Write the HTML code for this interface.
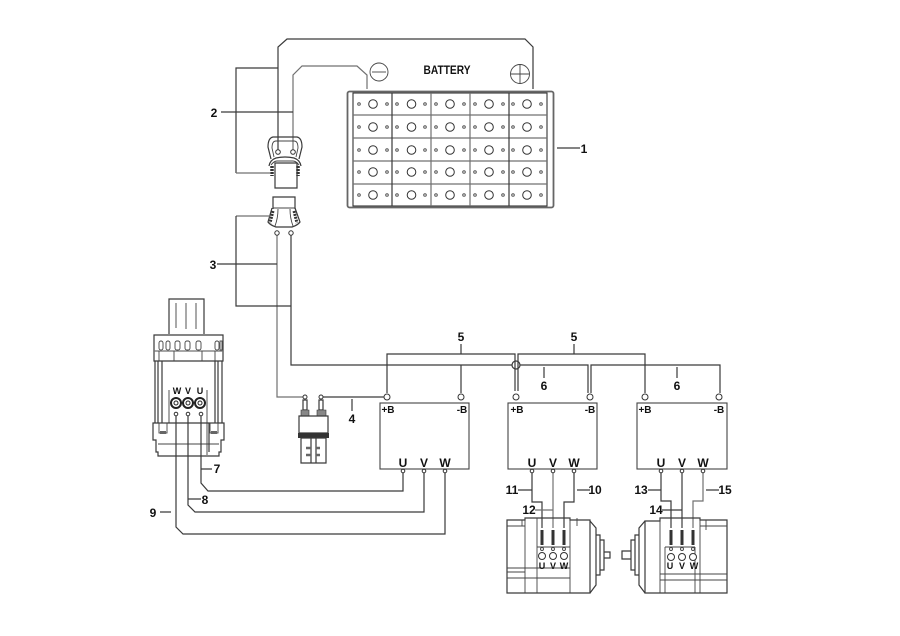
<!DOCTYPE html>
<html><head><meta charset="utf-8"><style>
html,body{margin:0;padding:0;background:#fff}
svg{display:block}
text{font-family:"Liberation Sans",sans-serif;font-weight:bold;fill:#111;text-anchor:middle}
.w{fill:none;stroke:#3a3a3a;stroke-width:1.2}
.g{fill:none;stroke:#707070;stroke-width:1.2}
.t{fill:none;stroke:#444;stroke-width:.9}
.c{fill:#fff;stroke:#333;stroke-width:1}
.n{font-size:12px}
.l{font-size:10px}
</style></head><body>
<svg width="900" height="636" viewBox="0 0 900 636" xmlns="http://www.w3.org/2000/svg">
<!-- battery wires -->
<path class="w" d="M278 152V47L287 39H525L533 47V89"/>
<path class="g" d="M293 152V75L302 66H357L367 75V89"/>
<path class="w" d="M278 68H236V173"/><path class="g" d="M236 173H270"/>
<path class="w" d="M221 112H293"/>
<circle class="t" cx="379" cy="72" r="9"/><path class="t" d="M372 72H386"/>
<circle class="t" cx="520" cy="74" r="9.500"/><path class="t" d="M511 74H529M520 65V83"/>
<text x="447" y="74" font-size="12" textLength="47" lengthAdjust="spacingAndGlyphs">BATTERY</text>
<!-- battery -->
<rect x="347.500" y="91.500" width="206" height="116" rx="2" fill="none" stroke="#666" stroke-width="1.800"/>
<rect x="353" y="93" width="194" height="113" fill="none" stroke="#333" stroke-width="1.100"/>
<path class="g" d="M353 115H547M353 138H547M353 161H547M353 184H547"/>
<path class="w" d="M392 93V206M509 93V206"/><path class="g" d="M431 93V206M470 93V206"/>
<g fill="none" stroke="#333" stroke-width="1">
<circle cx="373" cy="104" r="4.300"/><circle cx="411.500" cy="104" r="4.300"/><circle cx="450" cy="104" r="4.300"/><circle cx="489" cy="104" r="4.300"/><circle cx="527" cy="104" r="4.300"/>
<circle cx="373" cy="127" r="4.300"/><circle cx="411.500" cy="127" r="4.300"/><circle cx="450" cy="127" r="4.300"/><circle cx="489" cy="127" r="4.300"/><circle cx="527" cy="127" r="4.300"/>
<circle cx="373" cy="150" r="4.300"/><circle cx="411.500" cy="150" r="4.300"/><circle cx="450" cy="150" r="4.300"/><circle cx="489" cy="150" r="4.300"/><circle cx="527" cy="150" r="4.300"/>
<circle cx="373" cy="172" r="4.300"/><circle cx="411.500" cy="172" r="4.300"/><circle cx="450" cy="172" r="4.300"/><circle cx="489" cy="172" r="4.300"/><circle cx="527" cy="172" r="4.300"/>
<circle cx="373" cy="195" r="4.300"/><circle cx="411.500" cy="195" r="4.300"/><circle cx="450" cy="195" r="4.300"/><circle cx="489" cy="195" r="4.300"/><circle cx="527" cy="195" r="4.300"/>
</g>
<g fill="none" stroke="#555" stroke-width="1">
<circle cx="359" cy="104" r="1.300"/><circle cx="387" cy="104" r="1.300"/><circle cx="397" cy="104" r="1.300"/><circle cx="425" cy="104" r="1.300"/><circle cx="436" cy="104" r="1.300"/><circle cx="464" cy="104" r="1.300"/><circle cx="475" cy="104" r="1.300"/><circle cx="503" cy="104" r="1.300"/><circle cx="513" cy="104" r="1.300"/><circle cx="541" cy="104" r="1.300"/>
<circle cx="359" cy="127" r="1.300"/><circle cx="387" cy="127" r="1.300"/><circle cx="397" cy="127" r="1.300"/><circle cx="425" cy="127" r="1.300"/><circle cx="436" cy="127" r="1.300"/><circle cx="464" cy="127" r="1.300"/><circle cx="475" cy="127" r="1.300"/><circle cx="503" cy="127" r="1.300"/><circle cx="513" cy="127" r="1.300"/><circle cx="541" cy="127" r="1.300"/>
<circle cx="359" cy="150" r="1.300"/><circle cx="387" cy="150" r="1.300"/><circle cx="397" cy="150" r="1.300"/><circle cx="425" cy="150" r="1.300"/><circle cx="436" cy="150" r="1.300"/><circle cx="464" cy="150" r="1.300"/><circle cx="475" cy="150" r="1.300"/><circle cx="503" cy="150" r="1.300"/><circle cx="513" cy="150" r="1.300"/><circle cx="541" cy="150" r="1.300"/>
<circle cx="359" cy="172" r="1.300"/><circle cx="387" cy="172" r="1.300"/><circle cx="397" cy="172" r="1.300"/><circle cx="425" cy="172" r="1.300"/><circle cx="436" cy="172" r="1.300"/><circle cx="464" cy="172" r="1.300"/><circle cx="475" cy="172" r="1.300"/><circle cx="503" cy="172" r="1.300"/><circle cx="513" cy="172" r="1.300"/><circle cx="541" cy="172" r="1.300"/>
<circle cx="359" cy="195" r="1.300"/><circle cx="387" cy="195" r="1.300"/><circle cx="397" cy="195" r="1.300"/><circle cx="425" cy="195" r="1.300"/><circle cx="436" cy="195" r="1.300"/><circle cx="464" cy="195" r="1.300"/><circle cx="475" cy="195" r="1.300"/><circle cx="503" cy="195" r="1.300"/><circle cx="513" cy="195" r="1.300"/><circle cx="541" cy="195" r="1.300"/>
</g>
<!-- upper connector -->
<path class="w" d="M271 159L268 147Q268 138 273 137H297Q302 138 302 147L299 159"/>
<path class="t" d="M274 157L272 148Q272 141 276 141H294Q298 141 298 148L296 157"/>
<circle class="c" cx="278" cy="152" r="2.300"/><circle class="c" cx="293" cy="152" r="2.300"/>
<path class="w" d="M269 166Q270 160 276 158Q285 156 294 158Q300 160 301 166"/>
<path class="t" d="M271 165Q274 161 277 161H293Q296 161 299 165"/>
<path class="w" d="M275 163H297V188H275Z"/>
<path d="M272 166V176M298 166V176" stroke="#333" stroke-width="3.500" stroke-dasharray="2 1" fill="none"/>
<!-- lower connector -->
<path class="w" d="M273 209V197H295V209"/>
<path class="w" d="M272 208L268 222Q270 225 276 227H292Q298 225 300 222L295 208"/>
<path class="t" d="M273 208H295M278 209Q278 218 275 226M290 209Q290 218 293 226"/>
<path d="M273 211L270 223M294 211L297 223" stroke="#333" stroke-width="3" stroke-dasharray="2 1" fill="none"/>
<path class="g" d="M277 235V397H303"/>
<path class="w" d="M291 235V365H385"/>
<path class="g" d="M270 216H236"/><path class="w" d="M236 216V306H291"/>
<path class="w" d="M217 264H277"/>
<circle class="c" cx="277" cy="233" r="2.200"/><circle class="c" cx="291" cy="233" r="2.200"/>
<!-- bus -->
<path class="w" d="M387 393V354H515V391"/>
<path class="w" d="M385 365H512M520 365H588V393M591 393V365H720V393"/>
<path class="w" d="M518 391V354H645V393"/>
<path class="w" d="M512 365A4 4 0 0 1 520 365"/><path class="w" d="M512 365A4 4 0 0 0 520 365"/>
<path class="w" d="M461 365V393"/>
<path class="w" d="M461 344V354M574 344V354M544 367V378M677 367V378M352 399V411"/>
<circle class="c" cx="387" cy="397" r="3"/><circle class="c" cx="461" cy="397" r="3"/>
<circle class="c" cx="516" cy="397" r="3"/><circle class="c" cx="590" cy="397" r="3"/>
<circle class="c" cx="645" cy="397" r="3"/><circle class="c" cx="719" cy="397" r="3"/>
<path class="w" d="M323 397H384"/>
<!-- controller boxes -->
<rect x="380" y="403" width="89" height="66" fill="none" stroke="#444" stroke-width="1.100"/>
<rect x="508" y="403" width="89" height="66" fill="none" stroke="#444" stroke-width="1.100"/>
<rect x="637" y="403" width="90" height="66" fill="none" stroke="#444" stroke-width="1.100"/>
<g class="l">
<text x="388" y="413">+B</text><text x="462" y="413">-B</text>
<text x="517" y="413">+B</text><text x="590" y="413">-B</text>
<text x="645" y="413">+B</text><text x="719" y="413">-B</text>
<text x="403" y="467" font-size="12">U</text><text x="424" y="467" font-size="12">V</text><text x="445" y="467" font-size="12">W</text>
<text x="532" y="467" font-size="12">U</text><text x="553" y="467" font-size="12">V</text><text x="574" y="467" font-size="12">W</text>
<text x="661" y="467" font-size="12">U</text><text x="682" y="467" font-size="12">V</text><text x="703" y="467" font-size="12">W</text>
</g>
<!-- contactor -->
<circle class="c" cx="305" cy="397" r="2"/><circle class="c" cx="321" cy="397" r="2"/>
<path class="w" d="M303 400H307V410H303ZM319 400H323V410H319Z"/>
<path d="M301 410H309V416H301ZM317 410H326V416H317Z" fill="#888" stroke="#333" stroke-width=".6"/>
<path class="w" d="M299 416H328V433H299Z"/>
<rect x="298" y="433" width="31" height="5" fill="#333"/>
<path class="w" d="M301 438H326V463H301ZM311 438V463M316 438V463"/>
<path d="M306 448H311M316 448H320M306 455H311M316 455H320" stroke="#666" stroke-width="2.500" fill="none"/>
<!-- motor controller left -->
<path class="w" d="M169 334V299H204V334"/>
<path class="g" d="M176 303V328M186 303V329M196 303V329"/>
<path class="w" d="M154 335H223V361H154Z"/>
<path class="g" d="M154 351H223"/>
<rect class="t" x="159" y="341" width="4" height="9" rx="2"/><rect class="t" x="166" y="341" width="4" height="9" rx="2"/><rect class="t" x="175" y="341" width="5" height="9" rx="2"/><rect class="t" x="185" y="341" width="5" height="9" rx="2"/><rect class="t" x="196" y="341" width="5" height="9" rx="2"/><rect class="t" x="215" y="341" width="4" height="9" rx="2"/><rect class="t" x="220" y="341" width="2" height="9"/>
<path class="t" d="M159 351V361M174 351V361M202 351V361M215 351V361"/>
<path class="w" d="M155 361V423M158 361V423M162 361V423M215 361V423M218 361V423M222 361V423"/>
<path class="g" d="M169 390V423M207 390V455"/>
<path class="w" d="M153 423H224V440L221 440V452H219V456H158V452H156V440H153Z"/>
<path class="t" d="M158 444H219"/>
<path class="w" d="M209 423V452" stroke-width="1.500"/>
<rect class="t" x="159" y="423" width="8" height="10"/><rect class="t" x="210" y="423" width="8" height="10"/>
<rect x="160" y="431" width="6" height="3" fill="#666"/><rect x="211" y="431" width="6" height="3" fill="#666"/>
<g stroke="#222" fill="#fff">
<circle cx="176" cy="403" r="5" stroke-width="2"/><circle cx="176" cy="403" r="2" stroke-width="1"/>
<circle cx="188" cy="403" r="5" stroke-width="2"/><circle cx="188" cy="403" r="2" stroke-width="1"/>
<circle cx="200" cy="403" r="5" stroke-width="2"/><circle cx="200" cy="403" r="2" stroke-width="1"/>
</g>
<text x="177" y="394" font-size="9">W</text><text x="188" y="394" font-size="9">V</text><text x="200" y="394" font-size="9">U</text>
<path class="w" d="M201 416V483L208 491H403V473"/>
<path class="w" d="M188 416V505L195 512H424V473"/>
<path class="w" d="M176 416V527L183 534H445V473"/>
<circle class="c" cx="176" cy="414" r="1.800"/><circle class="c" cx="188" cy="414" r="1.800"/><circle class="c" cx="201" cy="414" r="1.800"/>
<circle class="c" cx="403" cy="471" r="1.800"/><circle class="c" cx="424" cy="471" r="1.800"/><circle class="c" cx="445" cy="471" r="1.800"/>
<path class="w" d="M201 469H212M188 499H201M160 512H171"/>
<!-- motor 1 wiring -->
<path class="w" d="M532 473V502H542V528"/><path class="g" d="M553 473V528"/><path class="w" d="M574 473V502H564V528"/>
<circle class="c" cx="532" cy="471" r="1.800"/><circle class="c" cx="553" cy="471" r="1.800"/><circle class="c" cx="574" cy="471" r="1.800"/>
<path class="w" d="M518 490H532M577 490H590"/><path class="g" d="M535 510H553"/>
<!-- motor 1 -->
<path class="w" d="M507 520H525V518H570V520H590V593H507Z"/>
<path class="t" d="M525 518V593M570 518V593M537 518V593M507 526H525M507 568H570M507 578H570M507 572H525M537 547H570M522 520V526M577 518V526"/>
<path class="w" d="M590 521L596 528V585L590 593M596 535H600V575H596M600 540H604V570H600M604 552H610V558H604"/>
<path d="M542 530V545M553 530V545M564 530V545" stroke="#333" stroke-width="3" fill="none"/>
<circle class="c" cx="542" cy="556" r="3.500" stroke-width="1.500"/><circle class="c" cx="553" cy="556" r="3.500" stroke-width="1.500"/><circle class="c" cx="564" cy="556" r="3.500" stroke-width="1.500"/>
<circle class="t" cx="542" cy="549" r="1.500"/><circle class="t" cx="553" cy="549" r="1.500"/><circle class="t" cx="564" cy="549" r="1.500"/>
<text x="542" y="569" font-size="9">U</text><text x="553" y="569" font-size="9">V</text><text x="564" y="569" font-size="9">W</text>
<!-- motor 2 wiring -->
<path class="w" d="M661 473V501H671V528"/><path class="w" d="M682 473V528"/><path class="g" d="M703 473V501H693V528"/>
<circle class="c" cx="661" cy="471" r="1.800"/><circle class="c" cx="682" cy="471" r="1.800"/><circle class="c" cx="703" cy="471" r="1.800"/>
<path class="w" d="M648 490H661M706 490H719M662 510H682"/>
<!-- motor 2 -->
<path class="w" d="M645 521H660V518H700V520H727V593H645Z"/>
<path class="t" d="M660 518V593M700 518V593M665 547V593M695 547V593M665 547H695M700 526H727M660 574H727M660 580H727M706 520V530"/>
<path class="w" d="M645 521L639 528V585L645 593M639 535H635V575H639M635 540H631V570H635M631 551H622V559H631"/>
<path d="M671 530V545M682 530V545M693 530V545" stroke="#333" stroke-width="3" fill="none"/>
<circle class="c" cx="671" cy="557" r="3.500" stroke-width="1.500"/><circle class="c" cx="682" cy="557" r="3.500" stroke-width="1.500"/><circle class="c" cx="693" cy="557" r="3.500" stroke-width="1.500"/>
<circle class="t" cx="671" cy="549" r="1.500"/><circle class="t" cx="682" cy="549" r="1.500"/><circle class="t" cx="693" cy="549" r="1.500"/>
<text x="670" y="569" font-size="9">U</text><text x="682" y="569" font-size="9">V</text><text x="694" y="569" font-size="9">W</text>
<!-- labels -->
<g class="n">
<path class="w" d="M557 148H580"/>
<text x="584" y="153">1</text><text x="214" y="117">2</text><text x="213" y="269">3</text><text x="352" y="423">4</text>
<text x="461" y="341">5</text><text x="574" y="341">5</text><text x="544" y="390">6</text><text x="677" y="390">6</text>
<text x="217" y="473">7</text><text x="205" y="504">8</text><text x="153" y="517">9</text>
<text x="595" y="494">10</text><text x="512" y="494">11</text><text x="529" y="514">12</text>
<text x="641" y="494">13</text><text x="656" y="514">14</text><text x="725" y="494">15</text>
</g>
</svg>
</body></html>
